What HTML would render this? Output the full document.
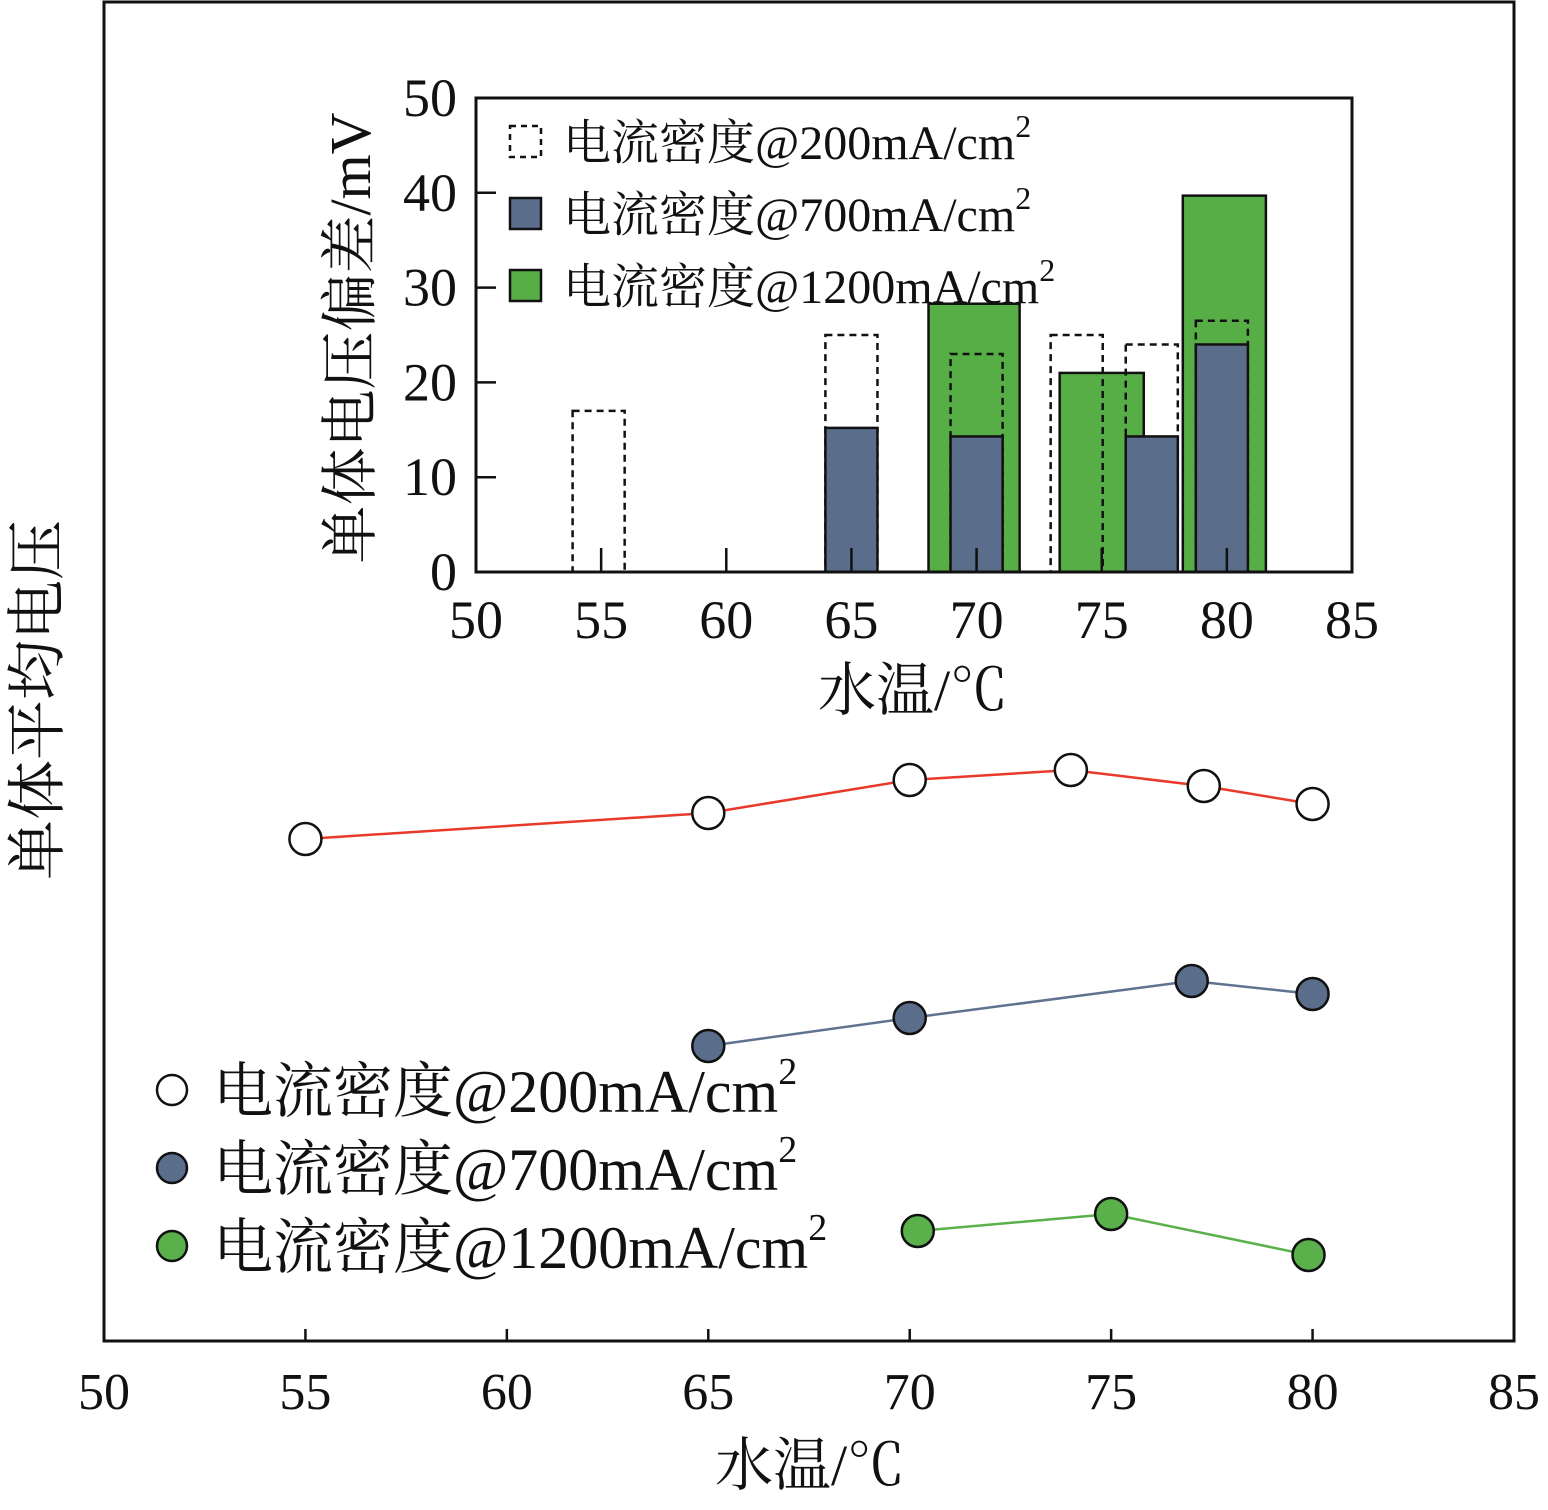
<!DOCTYPE html>
<html><head><meta charset="utf-8">
<style>
html,body{margin:0;padding:0;background:#fff;}
svg text{font-family:"Liberation Serif","Times New Roman","Noto Serif CJK SC",serif;fill:#111;}
svg text.num{font-family:"Liberation Serif","Times New Roman",serif;}
</style></head>
<body>
<svg id="chart" width="1548" height="1505" viewBox="0 0 1548 1505" xmlns="http://www.w3.org/2000/svg">
<g id="main"></g>
<g id="inset"></g>
</svg>
<script>
// Main chart data
const xTicks = [50,55,60,65,70,75,80,85];
const s200X = [55,65,70,74,77.3,80];
const s200V = [502,528,561,571,555,537];
const s700X = [65,70,77,80];
const s700V = [295,323,360,347];
const s1200X = [70.2,75,79.9];
const s1200V = [110,127,86];
// Inset data
const insetYTicks = [0,10,20,30,40,50];
const b200X = [54.9,65,70,74,77,79.8];
const b200V = [17,25,23,25,24,26.5];
const b700X = [65,70,77,79.8];
const b700V = [15.2,14.3,14.3,24];
const b1200X = [69.9,75,79.9];
const b1200V = [28.3,21,39.7];
const b1200W = [3.64,3.36,3.32];

const NS='http://www.w3.org/2000/svg';
function mk(tag,attrs,parent,text){const e=document.createElementNS(NS,tag);for(const k in attrs)e.setAttribute(k,attrs[k]);if(text!==undefined)e.textContent=text;parent.appendChild(e);return e;}
const main=document.getElementById('main'), inset=document.getElementById('inset');

const mx=v=>104+(v-50)*1410/35;
const my=v=>1341-v;
let f=mk('rect',{x:104,y:2,width:1410,height:1339,fill:'none',stroke:'#111','stroke-width':3},main);


xTicks.forEach(t=>{
  let l=mk('line',{x1:mx(t),x2:mx(t),y1:1341,y2:1329,stroke:'#111','stroke-width':2.5},main);
  
  
  let tx=mk('text',{x:mx(t),y:1409,'font-size':52,'text-anchor':'middle','class':'num'},main,String(t));
  
  
});
let xt=mk('text',{x:810,y:1485,'font-size':58,'text-anchor':'middle'},main,'水温/℃');


let yt=mk('text',{x:0,y:0,'font-size':60,'text-anchor':'middle',transform:'translate(58,700) rotate(-90)'},main,'单体平均电压');



function series(xs,vs,line,fill,name){
  const pts=xs.map((x,i)=>mx(x)+','+my(vs[i])).join(' ');
  let pl=mk('polyline',{points:pts,fill:'none',stroke:line,'stroke-width':2.5},main);
  
  
  xs.forEach((x,i)=>{
    let c=mk('circle',{cx:mx(x),cy:my(vs[i]),r:16,fill:fill,stroke:'#111','stroke-width':2.5},main);
    
    
  });
}
series(s200X,s200V,'#e8392a','#fff','series-200');
series(s700X,s700V,'#5f7290','#5a6e8c','series-700');
series(s1200X,s1200V,'#5ab04a','#5ab04a','series-1200');

const legItems=[['#fff','200'],['#5a6e8c','700'],['#5ab04a','1200']];
legItems.forEach((it,i)=>{
  const y=1090+i*78;
  let c=mk('circle',{cx:172,cy:y,r:15,fill:it[0],stroke:'#111','stroke-width':2.5},main);
  
  
  let t=mk('text',{x:213,y:y+22,'font-size':60},main);
  
  
  t.textContent='电流密度@'+it[1]+'mA/cm';
  mk('tspan',{dy:-28,'font-size':38},t,'2');
});

const ix=v=>476+(v-50)*876/35;
const iy=v=>572-v*474/50;
const bw=2.08*876/35;
b1200X.forEach((x,i)=>{
  const w=b1200W[i]*876/35;
  let r=mk('rect',{x:ix(x)-w/2,y:iy(b1200V[i]),width:w,height:iy(0)-iy(b1200V[i]),fill:'#58ae46',stroke:'#111','stroke-width':2.5},inset);
  
  
});
b200X.forEach((x,i)=>{
  let r=mk('rect',{x:ix(x)-bw/2,y:iy(b200V[i]),width:bw,height:iy(0)-iy(b200V[i]),fill:'none',stroke:'#111','stroke-width':2.5,'stroke-dasharray':'7,5'},inset);
  
  
});
b700X.forEach((x,i)=>{
  let r=mk('rect',{x:ix(x)-bw/2,y:iy(b700V[i]),width:bw,height:iy(0)-iy(b700V[i]),fill:'#5a6e8c',stroke:'#111','stroke-width':2.5},inset);
  
  
});
let fi=mk('rect',{x:476,y:98,width:876,height:474,fill:'none',stroke:'#111','stroke-width':3},inset);


xTicks.forEach(t=>{
  let l=mk('line',{x1:ix(t),x2:ix(t),y1:572,y2:548,stroke:'#111','stroke-width':2.5},inset);
  
  
  let tx=mk('text',{x:ix(t),y:638,'font-size':54,'text-anchor':'middle','class':'num'},inset,String(t));
  
  
});
insetYTicks.forEach(t=>{
  let l=mk('line',{x1:476,x2:496,y1:iy(t),y2:iy(t),stroke:'#111','stroke-width':2.5},inset);
  
  
  let tx=mk('text',{x:457,y:iy(t)+18,'font-size':54,'text-anchor':'end','class':'num'},inset,String(t));
  
  
});
let ixt=mk('text',{x:913,y:710,'font-size':58,'text-anchor':'middle'},inset,'水温/℃');


let iyt=mk('text',{x:0,y:0,'font-size':58,'text-anchor':'middle',transform:'translate(370,338) rotate(-90)'},inset,'单体电压偏差/mV');



const iLeg=[['none','200',true],['#5a6e8c','700',false],['#58ae46','1200',false]];
iLeg.forEach((it,i)=>{
  const y=142+i*72;
  let r=mk('rect',{x:510,y:y-16,width:31,height:31,fill:it[0],stroke:'#111','stroke-width':2.5},inset);
  if(it[2])r.setAttribute('stroke-dasharray','6,5');
  
  
  let t=mk('text',{x:563,y:y+17,'font-size':48},inset);
  
  
  t.textContent='电流密度@'+it[1]+'mA/cm';
  mk('tspan',{dy:-22,'font-size':32},t,'2');
});
</script>
</body></html>
